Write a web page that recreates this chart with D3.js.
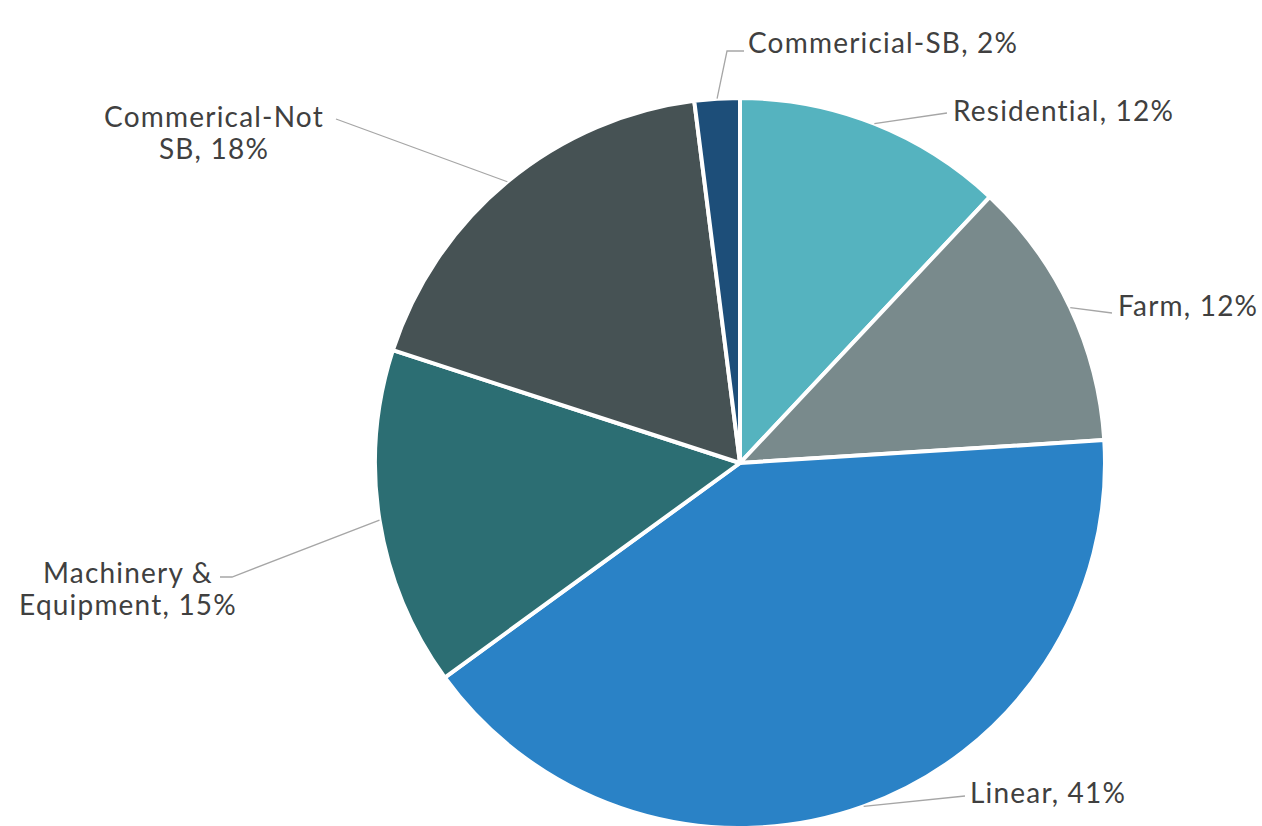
<!DOCTYPE html>
<html><head><meta charset="utf-8">
<script src="https://cdn.jsdelivr.net/npm/d3@7"></script>
<style>html,body{margin:0;padding:0;background:#fff;overflow:hidden}</style>
</head><body>
<svg id="chart" width="1262" height="826"></svg>
<script>
const categories = ["Residential", "Farm", "Linear", "Machinery & Equipment", "Commerical-Not SB", "Commericial-SB"];
const values = [12, 12, 41, 15, 18, 2];
const labelLines = [["Residential, 12%"], ["Farm, 12%"], ["Linear, 41%"], ["Machinery &", "Equipment, 15%"], ["Commerical-Not", "SB, 18%"], ["Commericial-SB, 2%"]];
const colors = ["#55b3bf", "#798a8c", "#2a82c6", "#2c6e73", "#465254", "#1d4e79"];

// label layout (anchor of text, elbow of leader)
const layout = [
  {x: 953, y: 121, anchor: "start", elbow: [947, 113]},
  {x: 1118, y: 316, anchor: "start", elbow: [1112, 313]},
  {x: 970, y: 803, anchor: "start", elbow: [965, 796]},
  {x: 128, y: 583, anchor: "middle", elbow: [232, 577], elbow2: [220, 577]},
  {x: 214, y: 127, anchor: "middle", elbow: [336, 119]},
  {x: 748, y: 53, anchor: "start", elbow: [727, 51], end: [744, 51]}
];

const svg = d3.select("#chart");
const cx = 740, cy = 463, R = 365;
const g = svg.append("g").attr("transform", `translate(${cx},${cy})`);
const pie = d3.pie().sort(null).value(d => d)(values);
const arc = d3.arc().innerRadius(0).outerRadius(R);

g.selectAll("path.slice").data(pie).join("path")
  .attr("class", "slice")
  .attr("d", arc)
  .attr("fill", (d, i) => colors[i])
  .attr("stroke", "#fff").attr("stroke-width", 4).attr("stroke-linejoin", "round");

const edge = d3.arc().innerRadius(R).outerRadius(R);
pie.forEach((d, i) => {
  const c = edge.centroid(d);
  const p = [c[0] + cx, c[1] + cy];
  const L = layout[i];
  const pts = [p, L.elbow];
  if (L.end) pts.push(L.end);
  if (L.elbow2) pts.push(L.elbow2);
  svg.append("path")
    .attr("d", d3.line()(pts))
    .attr("fill", "none").attr("stroke", "#a6a6a6").attr("stroke-width", 1.3);
  const t = svg.append("text")
    .attr("x", L.x).attr("y", L.y)
    .attr("text-anchor", L.anchor)
    .attr("font-family", "Lato, 'Noto Sans', sans-serif")
    .attr("font-size", 28)
    .attr("letter-spacing", 1.2)
    .attr("fill", "#404040");
  labelLines[i].forEach((line, k) => {
    t.append("tspan").attr("x", L.x).attr("dy", k === 0 ? 0 : 32).text(line);
  });
});
</script>
</body></html>
